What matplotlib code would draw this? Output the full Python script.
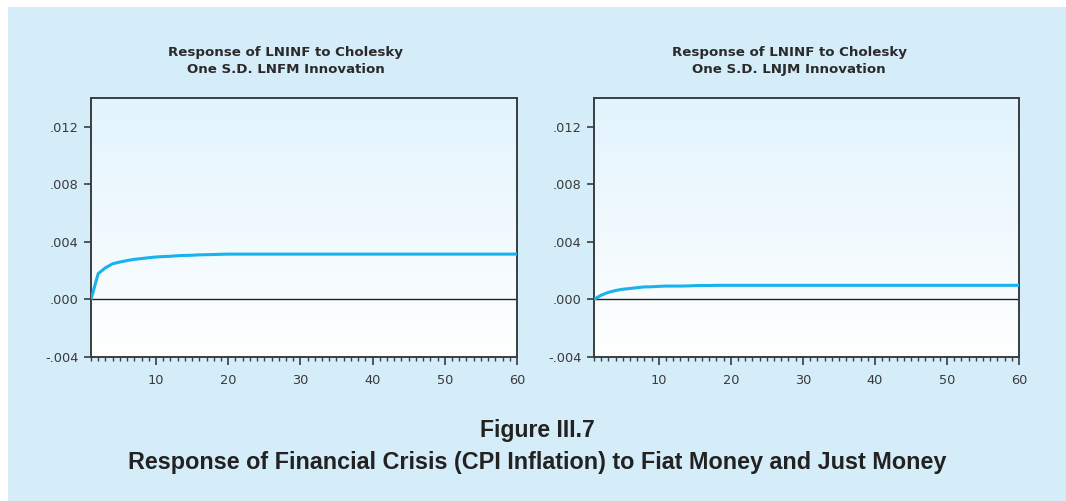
import numpy as np
import matplotlib
matplotlib.use("Agg")
import matplotlib.pyplot as plt
from matplotlib.ticker import MultipleLocator, FixedLocator, FuncFormatter
from matplotlib.colors import LinearSegmentedColormap
from matplotlib.patches import Rectangle

periods = list(range(1, 61))

resp_lnfm_head = [0.0, 0.0018, 0.0022, 0.00248, 0.0026, 0.0027, 0.00279, 0.00284,
                  0.0029, 0.00295, 0.00298, 0.003, 0.00304, 0.00306, 0.00307,
                  0.0031, 0.00311, 0.00312, 0.00314, 0.00315]
resp_lnfm_tail = [0.00315] * 40
resp_lnfm = resp_lnfm_head + resp_lnfm_tail

resp_lnjm_head = [0.0, 0.0003, 0.00049, 0.00062, 0.00071, 0.00076, 0.00082, 0.00087,
                  0.00088, 0.00091, 0.00093, 0.00093, 0.00093, 0.00094, 0.00096,
                  0.00097, 0.00097, 0.00098, 0.00098, 0.00098]
resp_lnjm_tail = [0.00098] * 40
resp_lnjm = resp_lnjm_head + resp_lnjm_tail

panel_titles = ["Response of LNINF to Cholesky\nOne S.D. LNFM Innovation",
                "Response of LNINF to Cholesky\nOne S.D. LNJM Innovation"]
y_ticks = [-0.004, 0.0, 0.004, 0.008, 0.012]
x_ticks = [10, 20, 30, 40, 50, 60]

W, H = 1066, 501
fig = plt.figure(figsize=(W / 100, H / 100), dpi=100)
fig.patch.set_facecolor("white")
bg = "#d5ecf9"
fig.add_artist(Rectangle((8 / W, 0), 1, 1 - 7 / H, transform=fig.transFigure,
                         facecolor=bg, edgecolor="none", zorder=-10))

line_color = "#1ab2ec"
spine_color = "#3a3d40"
text_color = "#3a3a3a"
cmap = LinearSegmentedColormap.from_list("g", ["#ffffff", "#e2f4fd"])

def fmt(v, pos):
    s = "%.3f" % v
    if s.startswith("0."):
        s = s[1:]
    elif s.startswith("-0."):
        s = "-" + s[2:]
    if s in ("-.000",):
        s = ".000"
    return s

axes_px = [(91, 517), (594, 1019)]
top_px, bot_px = 98, 357
series = [resp_lnfm, resp_lnjm]
title_cx = [286, 789]

for i, (l, r) in enumerate(axes_px):
    ax = fig.add_axes([l / W, 1 - bot_px / H, (r - l) / W, (bot_px - top_px) / H])
    ax.set_facecolor("white")
    grad = np.linspace(0, 1, 256).reshape(-1, 1)
    ax.imshow(grad, aspect="auto", cmap=cmap, origin="lower",
              extent=[0, 1, 0, 1], transform=ax.transAxes, zorder=0)
    ax.axhline(0, color="#222222", lw=1.0, zorder=1)
    ax.plot(periods, series[i], color=line_color, lw=2.2, zorder=3,
            solid_capstyle="butt")
    ax.set_xlim(1, 60)
    ax.set_ylim(-0.004, 0.014)
    ax.yaxis.set_major_locator(FixedLocator(y_ticks))
    ax.yaxis.set_major_formatter(FuncFormatter(fmt))
    ax.xaxis.set_major_locator(FixedLocator(x_ticks))
    ax.xaxis.set_minor_locator(MultipleLocator(1))
    for s in ax.spines.values():
        s.set_color(spine_color)
        s.set_linewidth(1.4)
    ax.tick_params(axis="both", which="major", direction="out", color=spine_color,
                   labelcolor=text_color, labelsize=9.3, width=1.2)
    ax.tick_params(axis="y", which="major", length=5, pad=4)
    ax.tick_params(axis="x", which="major", length=6, pad=6)
    ax.tick_params(axis="x", which="minor", length=3, width=1.0, color=spine_color)
    fig.text(title_cx[i] / W, 1 - 46 / H, panel_titles[i], ha="center", va="top",
             fontsize=9.6, fontweight="bold", color="#2a2a2a", linespacing=1.4,
             family=["DejaVu Sans"])

fig.text(537 / W, 1 - 430 / H, "Figure III.7", ha="center", va="center",
         fontsize=16.6, fontweight="bold", color="#222222",
         family=["Liberation Sans Narrow", "Liberation Sans", "DejaVu Sans"])
fig.text(537 / W, 1 - 463 / H,
         "Response of Financial Crisis (CPI Inflation) to Fiat Money and Just Money",
         ha="center", va="center", fontsize=16.8, fontweight="bold", color="#222222",
         family=["Liberation Sans Narrow", "Liberation Sans", "DejaVu Sans"])

fig.savefig("out.png", dpi=100, facecolor=fig.get_facecolor())
